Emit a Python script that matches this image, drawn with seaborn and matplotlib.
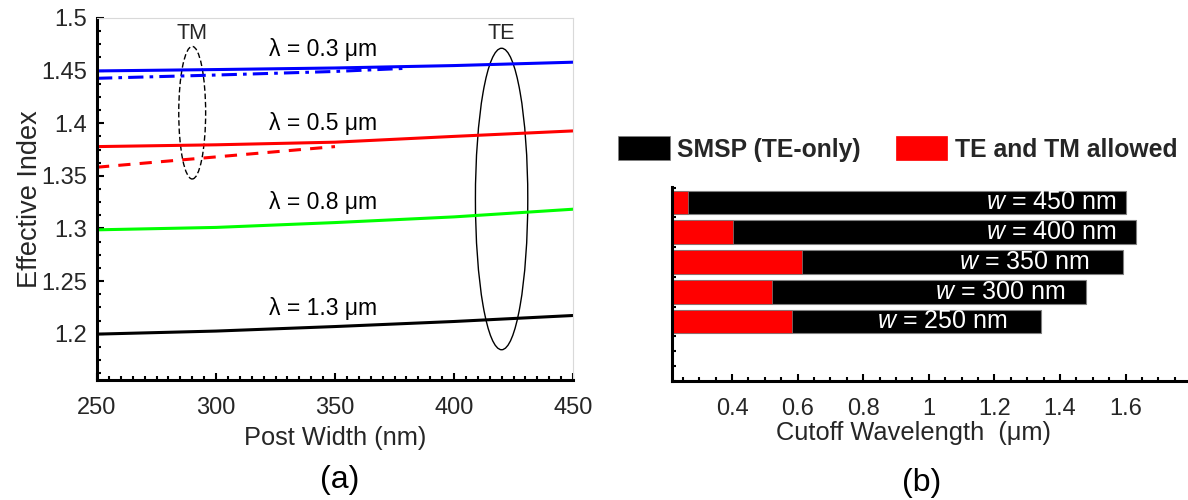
import numpy as np
import pandas as pd
import seaborn as sns
import matplotlib
matplotlib.use("Agg")
import matplotlib.pyplot as plt
from matplotlib.patches import Ellipse, Patch
from matplotlib.ticker import MultipleLocator

# ---------------- data: panel (a) ----------------
post_width = [250, 300, 350, 400, 450]
te_03 = [1.4497, 1.4510, 1.4525, 1.4548, 1.4580]
te_05 = [1.3778, 1.3795, 1.3820, 1.3875, 1.3927]
te_08 = [1.2987, 1.3010, 1.3056, 1.3110, 1.3183]
te_13 = [1.1996, 1.2025, 1.2068, 1.2116, 1.2173]
tm_03_width = [250, 300, 350, 380]
tm_03 = [1.4427, 1.4458, 1.4492, 1.4522]
tm_05_width = [250, 300, 350]
tm_05 = [1.3582, 1.3680, 1.3778]
wavelength_labels = ["λ = 0.3 μm", "λ = 0.5 μm", "λ = 0.8 μm", "λ = 1.3 μm"]
wavelength_label_y = [1.4696, 1.3993, 1.3243, 1.2237]

# ---------------- data: panel (b) ----------------
bar_w = [250, 300, 350, 400, 450]
cutoff_total = [1.343, 1.480, 1.591, 1.631, 1.600]
cutoff_tm = [0.584, 0.523, 0.614, 0.403, 0.265]
bar_label_end = [1.24, 1.415, 1.49, 1.57, 1.57]
bar_tick_labels = ["0.4", "0.6", "0.8", "1", "1.2", "1.4", "1.6"]

sns.set_theme(style="white")
plt.rcParams["font.family"] = ["Liberation Sans", "DejaVu Sans"]
plt.rcParams["mathtext.fontset"] = "custom"
plt.rcParams["mathtext.it"] = "Liberation Sans:italic"
plt.rcParams["mathtext.rm"] = "Liberation Sans"

TXT = "#262626"
fig = plt.figure(figsize=(11.88, 5.0), dpi=100)
ax1 = fig.add_axes([97/1188, 1-380/500, (573-97)/1188, (380-18)/500])
ax2 = fig.add_axes([672/1188, 1-381/500, (1188-672)/1188, (381-187)/500])

# ---------- panel (a) ----------
lw = 2.2
for vals, col in [(te_03, "#0000ff"), (te_05, "#ff0000"), (te_08, "#00ff00"), (te_13, "black")]:
    sns.lineplot(x=post_width, y=vals, color=col, lw=lw, ax=ax1)
sns.lineplot(x=tm_03_width, y=tm_03, color="#0000ff", lw=lw, ax=ax1, linestyle=(0, (5, 2, 1.2, 2)))
sns.lineplot(x=tm_05_width, y=tm_05, color="#ff0000", lw=lw, ax=ax1, linestyle=(0, (4, 3)))

for lab, yy in zip(wavelength_labels, wavelength_label_y):
    ax1.text(345, yy, lab, ha="center", va="center", fontsize=16.5, color="black")
ax1.text(290, 1.4857, "TM", ha="center", va="center", fontsize=15.5)
ax1.text(420, 1.4857, "TE", ha="center", va="center", fontsize=15.5)
ax1.add_patch(Ellipse((290, 1.41), 11.3, 0.126, fill=False, ls=(0, (4, 2)), lw=1.0, ec="black"))
ax1.add_patch(Ellipse((420, 1.328), 22, 0.2865, fill=False, lw=1.0, ec="black"))

ax1.set_xlim(250, 450)
ax1.set_ylim(1.156, 1.5)
ax1.set_xticks([250, 300, 350, 400, 450])
ax1.set_yticks([1.2, 1.25, 1.3, 1.35, 1.4, 1.45, 1.5])
ax1.set_yticklabels(["1.2", "1.25", "1.3", "1.35", "1.4", "1.45", "1.5"])
ax1.xaxis.set_minor_locator(MultipleLocator(5))
ax1.yaxis.set_minor_locator(MultipleLocator(0.0125))
ax1.tick_params(which="both", direction="in", colors="black", labelcolor=TXT, labelsize=17,
                bottom=True, left=True, top=False, right=False)
ax1.tick_params(which="major", length=5, width=1.5)
ax1.tick_params(axis="x", which="major", pad=12)
ax1.tick_params(axis="y", which="major", pad=7)
ax1.tick_params(which="minor", length=3, width=1.5)
ax1.set_xlabel("Post Width (nm)", fontsize=18.3, color=TXT, labelpad=5)
ax1.set_ylabel("Effective Index", fontsize=19.5, color=TXT)
ax1.yaxis.set_label_coords(-0.113, 0.5)
for s in ["left", "bottom"]:
    ax1.spines[s].set_color("black")
    ax1.spines[s].set_linewidth(2.2)
for s in ["top", "right"]:
    ax1.spines[s].set_color("#d9d9d9")
    ax1.spines[s].set_linewidth(0.8)

# ---------- panel (b) ----------
df = pd.DataFrame({"w": bar_w, "total": cutoff_total, "tm": cutoff_tm})
sns.barplot(data=df, x="total", y="w", orient="y", native_scale=True, color="black",
            saturation=1, width=0.8, edgecolor="#7f7f7f", linewidth=0.8, ax=ax2)
sns.barplot(data=df, x="tm", y="w", orient="y", native_scale=True, color="#ff0000",
            saturation=1, width=0.8, edgecolor="#7f7f7f", linewidth=0.5, ax=ax2)
for w, xe in zip(bar_w, bar_label_end):
    ax2.text(xe, w, f"$w$ = {w} nm", ha="right", va="center", color="white", fontsize=18)

ax2.set_xlim(0.217, 1.79)
ax2.set_ylim(151, 476)
ax2.set_xticks([0.4, 0.6, 0.8, 1.0, 1.2, 1.4, 1.6])
ax2.set_xticklabels(bar_tick_labels)
ax2.xaxis.set_minor_locator(MultipleLocator(0.05))
ax2.set_yticks(np.arange(150, 476, 25))
ax2.set_yticklabels([])
ax2.tick_params(which="both", direction="in", colors="black", labelcolor=TXT, labelsize=17,
                bottom=True, left=True, top=False, right=False)
ax2.tick_params(axis="x", which="major", length=5, width=1.5, pad=12)
ax2.tick_params(axis="x", which="minor", length=3, width=1.5)
ax2.tick_params(axis="y", which="major", length=3, width=1.5)
ax2.set_xlabel("Cutoff Wavelength  (μm)", fontsize=18.3, color=TXT)
ax2.xaxis.set_label_coords((913-672)/(1188-672), -0.205)
ax2.set_ylabel("")
for s in ["left", "bottom"]:
    ax2.spines[s].set_color("black")
    ax2.spines[s].set_linewidth(2.2)
for s in ["top", "right"]:
    ax2.spines[s].set_visible(False)

handles = [Patch(facecolor="black", edgecolor="#7f7f7f", lw=0.5),
           Patch(facecolor="#ff0000", edgecolor="#ff0000", lw=0.5)]
fig.legend(handles, ["SMSP (TE-only)", "TE and TM allowed"], loc="center left",
           bbox_to_anchor=(618/1188, 1-149/500), ncol=2, frameon=False,
           prop={"weight": "bold", "size": 17.8}, handlelength=2.1, handleheight=1.13,
           handletextpad=0.3, columnspacing=1.4, borderpad=0, borderaxespad=0)

fig.text(340/1188, 1-480/500, "(a)", ha="center", va="center", fontsize=23, color="black")
fig.text(922/1188, 1-483/500, "(b)", ha="center", va="center", fontsize=23, color="black")

fig.savefig("out.png", dpi=100)
